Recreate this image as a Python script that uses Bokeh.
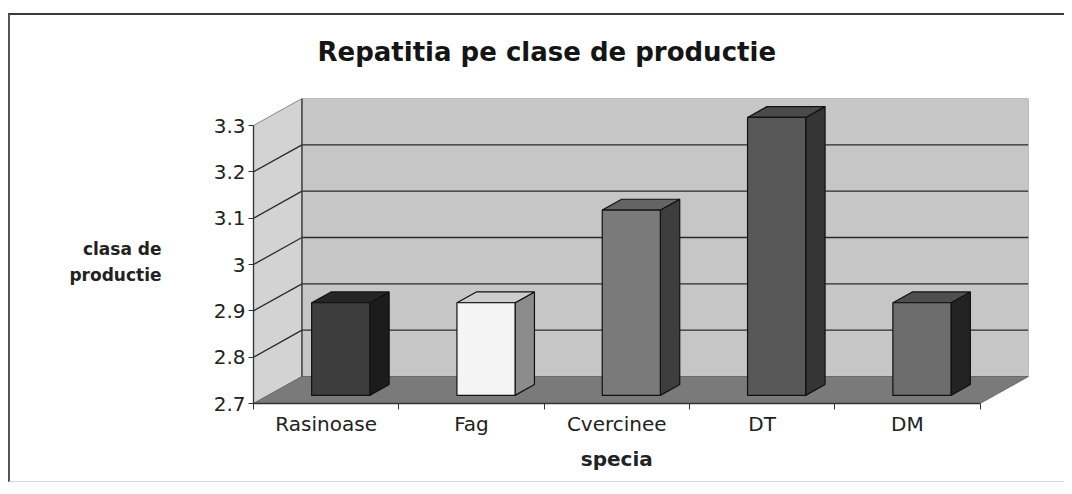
from bokeh.plotting import figure
from bokeh.models import FixedTicker, Range1d, LinearAxis, InlineStyleSheet
from bokeh.embed import file_html
from bokeh.resources import INLINE

# ---------------- data ----------------
title_text = "Repatitia pe clase de productie"
species = ["Rasinoase", "Fag", "Cvercinee", "DT", "DM"]
values = [2.9, 2.9, 3.1, 3.3, 2.9]
y_ticks = [2.7, 2.8, 2.9, 3.0, 3.1, 3.2, 3.3]
y_tick_labels = ["2.7", "2.8", "2.9", "3", "3.1", "3.2", "3.3"]
x_title = "specia"
y_title_lines = ["clasa de", "productie"]

# ---------------- style ----------------
front_colors = ["#3d3d3d", "#f4f4f4", "#7a7a7a", "#585858", "#6c6c6c"]
side_colors = ["#1c1c1c", "#8c8c8c", "#3e3e3e", "#353535", "#232323"]
top_colors = ["#262626", "#cdcdcd", "#646464", "#4a4a4a", "#4f4f4f"]
FONT = "DejaVu Sans"

n = len(species)
ymin, ymax = y_ticks[0], y_ticks[-1]
DX, DY = 0.3336, 0.0583          # depth vector of the 3-D box (style)
f0, f1 = 0.30, 0.70              # bar depth position (fraction of box depth)
bw = 0.40                        # bar width (fraction of category)

W, H = 1064, 486
p = figure(width=W, height=H, output_backend="svg", toolbar_location=None,
           x_range=Range1d(0, n + DX), y_range=Range1d(ymin, ymax + DY),
           min_border_left=253, min_border_right=36,
           min_border_top=98, min_border_bottom=83)
p.outline_line_color = None
p.background_fill_color = "white"
p.border_fill_color = "white"
p.xgrid.visible = False
p.ygrid.visible = False

# ---- title ----
p.title.text = title_text
p.title.align = "left"
p.title.offset = 64
p.title.standoff = 64
p.title.text_font = FONT
p.title.text_font_size = "26px"
p.title.text_font_style = "bold"
p.title.text_color = "#151515"

# ---- walls and floor ----
p.patch([0, DX, DX, 0], [ymin, ymin + DY, ymax + DY, ymax],
        fill_color="#d3d3d3", line_color="#8a8a8a", line_width=1)
p.patch([DX, n + DX, n + DX, DX], [ymin + DY, ymin + DY, ymax + DY, ymax + DY],
        fill_color="#c6c6c6", line_color="#8a8a8a", line_width=1)
p.patch([0, n, n + DX, DX], [ymin, ymin, ymin + DY, ymin + DY],
        fill_color="#7a7a7a", line_color="#6a6a6a", line_width=1)

g = [t for t in y_ticks[1:-1]]
p.segment(x0=[0] * len(g), y0=g, x1=[DX] * len(g), y1=[t + DY for t in g],
          line_color="#2b2b2b", line_width=1.3)
p.segment(x0=[DX] * len(g), y0=[t + DY for t in g], x1=[n + DX] * len(g),
          y1=[t + DY for t in g], line_color="#2b2b2b", line_width=1.3)
p.segment(x0=[DX], y0=[ymin + DY], x1=[DX], y1=[ymax + DY],
          line_color="#3a3a3a", line_width=1.3)

# ---- bars ----
dd = f1 - f0
fx, fy, sx, sy, tx, ty = [], [], [], [], [], []
for i, v in enumerate(values):
    x0 = i + 0.5 - bw / 2 + f0 * DX
    x1 = x0 + bw
    yb = ymin + f0 * DY
    yt = v + f0 * DY
    fx.append([x0, x1, x1, x0]); fy.append([yb, yb, yt, yt])
    sx.append([x1, x1 + dd * DX, x1 + dd * DX, x1])
    sy.append([yb, yb + dd * DY, yt + dd * DY, yt])
    tx.append([x0, x1, x1 + dd * DX, x0 + dd * DX])
    ty.append([yt, yt, yt + dd * DY, yt + dd * DY])

p.patches(sx, sy, fill_color=side_colors, line_color="#111111", line_width=1.2)
p.patches(tx, ty, fill_color=top_colors, line_color="#111111", line_width=1.2)
p.patches(fx, fy, fill_color=front_colors, line_color="#111111", line_width=1.2)

# ---- x axis (categories) ----
xa = p.xaxis[0]
xa.ticker = FixedTicker(ticks=[i + 0.5 for i in range(n)], minor_ticks=list(range(n + 1)))
xa.major_label_overrides = {i + 0.5: s for i, s in enumerate(species)}
xa.bounds = (0, n)
xa.major_tick_out = 0
xa.major_tick_in = 0
xa.minor_tick_out = 6
xa.minor_tick_in = 0
xa.minor_tick_line_color = "#333333"
xa.axis_line_color = "#333333"
xa.axis_line_width = 1.3
xa.major_label_standoff = 2
xa.major_label_text_font = FONT
xa.major_label_text_font_size = "20px"
xa.major_label_text_color = "#222222"

# axis title "specia" centred under the categories
xt = LinearAxis(ticker=FixedTicker(ticks=[n / 2]), major_label_overrides={n / 2: x_title},
                axis_line_color=None, major_tick_line_color=None, minor_tick_line_color=None,
                major_label_standoff=2, major_label_text_font=FONT,
                major_label_text_font_size="20px", major_label_text_font_style="bold",
                major_label_text_color="#222222")
p.add_layout(xt, "below")

# ---- y axis ----
ya = p.yaxis[0]
ya.ticker = FixedTicker(ticks=y_ticks)
ya.major_label_overrides = {t: s for t, s in zip(y_ticks, y_tick_labels)}
ya.bounds = (ymin, ymax)
ya.major_tick_out = 5
ya.major_tick_in = 0
ya.minor_tick_out = 0
ya.minor_tick_in = 0
ya.major_tick_line_color = "#333333"
ya.axis_line_color = "#333333"
ya.axis_line_width = 1.3
ya.major_label_standoff = 3
ya.major_label_text_font = FONT
ya.major_label_text_font_size = "20px"
ya.major_label_text_color = "#222222"

# y title as two lines left of the axis
yl_pos = [3.034, 2.978]
yt_axis = LinearAxis(ticker=FixedTicker(ticks=yl_pos),
                     major_label_overrides={t: s for t, s in zip(yl_pos, y_title_lines)},
                     axis_line_color=None, major_tick_line_color=None, minor_tick_line_color=None,
                     major_label_standoff=43, major_label_text_font=FONT,
                     major_label_text_font_size="17px", major_label_text_font_style="bold",
                     major_label_text_color="#222222")
p.add_layout(yt_axis, "left")

# ---- outer frame of the scanned chart ----
p.stylesheets = [InlineStyleSheet(css=(
    ":host { position: relative; }"
    ":host::after { content: ''; position: absolute; left: 8px; top: 13px; right: 0px;"
    " bottom: 4px; border-top: 2px solid #3a3a3a; border-left: 2px solid #555555;"
    " border-bottom: 1px solid #d8d8d8; pointer-events: none; }"))]

open("out.html", "w").write(file_html(p, INLINE))
